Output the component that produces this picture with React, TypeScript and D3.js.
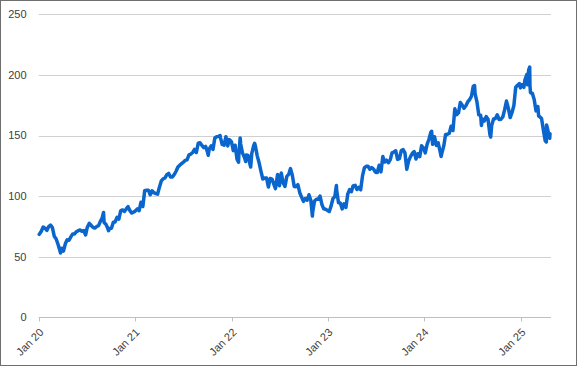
import React from "react";
import * as d3 from "d3";

const yTicks: number[] = [0, 50, 100, 150, 200, 250];
const xTickDates: string[] = ["2020-01-01", "2021-01-01", "2022-01-01", "2023-01-01", "2024-01-01", "2025-01-01"];
const xTickLabels: string[] = ["Jan 20", "Jan 21", "Jan 22", "Jan 23", "Jan 24", "Jan 25"];

const prices2020: [string, number][] = [
  ["2020-01-02", 68.4], ["2020-01-10", 71.0], ["2020-01-17", 74.5], ["2020-01-24", 73.5], ["2020-01-31", 71.7],
  ["2020-02-07", 74.9], ["2020-02-14", 76.1], ["2020-02-21", 74.0], ["2020-02-28", 66.9], ["2020-03-06", 64.8],
  ["2020-03-13", 60.5], ["2020-03-20", 55.4], ["2020-03-23", 53.1], ["2020-03-27", 57.0], ["2020-04-03", 54.6],
  ["2020-04-10", 60.6], ["2020-04-17", 63.9], ["2020-04-24", 63.6], ["2020-05-01", 66.4], ["2020-05-08", 68.8],
  ["2020-05-15", 68.8], ["2020-05-22", 70.6], ["2020-05-29", 71.5], ["2020-06-05", 72.0], ["2020-06-12", 71.0],
  ["2020-06-19", 71.6], ["2020-06-26", 67.9], ["2020-07-02", 74.0], ["2020-07-10", 77.5], ["2020-07-17", 75.9],
  ["2020-07-24", 74.2], ["2020-07-31", 73.6], ["2020-08-07", 74.9], ["2020-08-14", 75.6], ["2020-08-21", 79.2],
  ["2020-08-28", 82.0], ["2020-09-02", 86.5], ["2020-09-04", 78.2], ["2020-09-11", 76.7], ["2020-09-18", 73.4],
  ["2020-09-21", 71.5], ["2020-09-25", 73.3], ["2020-10-02", 73.5], ["2020-10-09", 78.4], ["2020-10-16", 78.7],
  ["2020-10-23", 82.4], ["2020-10-30", 81.0], ["2020-11-06", 87.8], ["2020-11-13", 88.6], ["2020-11-20", 87.3],
  ["2020-11-27", 89.4], ["2020-12-04", 91.3], ["2020-12-11", 88.0], ["2020-12-18", 86.0], ["2020-12-24", 86.7],
  ["2020-12-31", 87.6],
];

const prices2021: [string, number][] = [
  ["2021-01-08", 89.4], ["2021-01-15", 88.0], ["2021-01-22", 95.0], ["2021-01-29", 91.4], ["2021-02-05", 104.4],
  ["2021-02-12", 104.8], ["2021-02-19", 104.9], ["2021-02-26", 101.1], ["2021-03-05", 104.4], ["2021-03-12", 102.8],
  ["2021-03-19", 102.1], ["2021-03-26", 101.6], ["2021-04-01", 106.7], ["2021-04-09", 112.5], ["2021-04-16", 114.3],
  ["2021-04-23", 115.0], ["2021-04-30", 117.7], ["2021-05-07", 118.7], ["2021-05-14", 115.7], ["2021-05-21", 115.7],
  ["2021-05-28", 117.8], ["2021-06-04", 120.5], ["2021-06-11", 124.0], ["2021-06-18", 125.5], ["2021-06-25", 126.8],
  ["2021-07-02", 128.0], ["2021-07-09", 129.5], ["2021-07-16", 130.0], ["2021-07-23", 134.0], ["2021-07-30", 134.7],
  ["2021-08-06", 136.0], ["2021-08-13", 138.5], ["2021-08-20", 136.0], ["2021-08-27", 143.6], ["2021-09-03", 144.0],
  ["2021-09-10", 141.8], ["2021-09-17", 140.0], ["2021-09-24", 141.0], ["2021-10-01", 136.5], ["2021-10-04", 133.7],
  ["2021-10-08", 139.0], ["2021-10-15", 141.5], ["2021-10-22", 138.5], ["2021-10-29", 148.0], ["2021-11-05", 149.0],
  ["2021-11-12", 149.3], ["2021-11-18", 150.0], ["2021-11-19", 148.5], ["2021-11-26", 142.6], ["2021-12-03", 142.0],
  ["2021-12-10", 149.0], ["2021-12-17", 141.4], ["2021-12-23", 146.6], ["2021-12-31", 144.9],
];

const prices2022: [string, number][] = [
  ["2022-01-07", 137.5], ["2022-01-14", 142.0], ["2022-01-21", 130.5], ["2022-01-27", 128.0], ["2022-01-28", 133.5],
  ["2022-02-02", 148.0], ["2022-02-04", 143.0], ["2022-02-11", 135.5], ["2022-02-18", 132.0], ["2022-02-23", 128.5],
  ["2022-02-25", 134.0], ["2022-03-04", 133.5], ["2022-03-11", 126.5], ["2022-03-14", 124.0], ["2022-03-18", 135.0],
  ["2022-03-25", 141.5], ["2022-03-29", 143.6], ["2022-04-01", 141.0], ["2022-04-08", 133.0], ["2022-04-15", 127.5],
  ["2022-04-22", 120.5], ["2022-04-29", 114.1], ["2022-05-06", 115.0], ["2022-05-13", 115.0], ["2022-05-20", 107.5],
  ["2022-05-27", 114.5], ["2022-06-03", 114.0], ["2022-06-10", 109.7], ["2022-06-16", 106.2], ["2022-06-24", 117.8],
  ["2022-07-01", 108.6], ["2022-07-08", 119.0], ["2022-07-15", 111.0], ["2022-07-22", 107.9], ["2022-07-29", 116.3],
  ["2022-08-05", 117.9], ["2022-08-12", 122.7], ["2022-08-19", 117.0], ["2022-08-26", 108.0], ["2022-09-02", 107.8],
  ["2022-09-09", 109.4], ["2022-09-16", 102.8], ["2022-09-23", 99.2], ["2022-09-30", 95.6], ["2022-10-07", 98.0],
  ["2022-10-14", 96.6], ["2022-10-21", 101.1], ["2022-10-28", 96.6], ["2022-11-03", 83.5], ["2022-11-04", 86.7],
  ["2022-11-11", 96.0], ["2022-11-18", 97.4], ["2022-11-25", 97.3], ["2022-12-02", 100.0], ["2022-12-09", 93.1],
  ["2022-12-16", 89.5], ["2022-12-23", 89.2], ["2022-12-30", 88.2],
];

const prices2023: [string, number][] = [
  ["2023-01-06", 87.3], ["2023-01-13", 91.9], ["2023-01-20", 98.0], ["2023-01-27", 99.4], ["2023-02-02", 108.8],
  ["2023-02-03", 104.8], ["2023-02-10", 94.6], ["2023-02-17", 94.4], ["2023-02-24", 89.4], ["2023-03-03", 93.6],
  ["2023-03-10", 90.6], ["2023-03-17", 101.6], ["2023-03-24", 105.4], ["2023-03-31", 103.7], ["2023-04-06", 108.4],
  ["2023-04-14", 108.9], ["2023-04-21", 105.4], ["2023-04-28", 107.3], ["2023-05-05", 105.2], ["2023-05-12", 116.6],
  ["2023-05-19", 123.3], ["2023-05-26", 124.6], ["2023-06-02", 124.6], ["2023-06-09", 122.2], ["2023-06-16", 123.5],
  ["2023-06-23", 122.3], ["2023-06-30", 119.7], ["2023-07-07", 119.5], ["2023-07-14", 125.4], ["2023-07-21", 120.0],
  ["2023-07-28", 132.6], ["2023-08-04", 128.1], ["2023-08-11", 129.6], ["2023-08-18", 127.5], ["2023-08-25", 129.9],
  ["2023-09-01", 135.7], ["2023-09-08", 136.4], ["2023-09-15", 137.4], ["2023-09-22", 130.3], ["2023-09-29", 130.9],
  ["2023-10-06", 137.6], ["2023-10-13", 138.3], ["2023-10-20", 135.6], ["2023-10-27", 122.2], ["2023-11-03", 129.1],
  ["2023-11-10", 132.6], ["2023-11-17", 135.3], ["2023-11-24", 136.7], ["2023-12-01", 130.6], ["2023-12-08", 135.0],
  ["2023-12-15", 132.6], ["2023-12-22", 141.5], ["2023-12-29", 139.7],
];

const prices2024: [string, number][] = [
  ["2024-01-05", 135.7], ["2024-01-12", 142.7], ["2024-01-19", 146.9], ["2024-01-26", 152.6], ["2024-01-29", 153.5],
  ["2024-02-02", 142.7], ["2024-02-09", 149.0], ["2024-02-16", 141.8], ["2024-02-23", 144.0], ["2024-03-01", 137.1],
  ["2024-03-05", 132.7], ["2024-03-08", 135.4], ["2024-03-15", 141.2], ["2024-03-22", 150.8], ["2024-03-28", 150.9],
  ["2024-04-05", 151.8], ["2024-04-12", 157.7], ["2024-04-19", 154.1], ["2024-04-26", 172.0], ["2024-05-03", 167.2],
  ["2024-05-10", 168.7], ["2024-05-17", 177.3], ["2024-05-24", 175.0], ["2024-05-31", 172.5], ["2024-06-07", 174.5],
  ["2024-06-14", 177.7], ["2024-06-21", 179.6], ["2024-06-28", 182.2], ["2024-07-05", 190.6], ["2024-07-10", 191.2],
  ["2024-07-12", 184.4], ["2024-07-19", 177.7], ["2024-07-26", 167.0], ["2024-08-02", 166.7], ["2024-08-05", 158.3],
  ["2024-08-09", 163.7], ["2024-08-16", 162.0], ["2024-08-23", 165.6], ["2024-08-30", 163.4], ["2024-09-06", 150.9],
  ["2024-09-09", 148.7], ["2024-09-13", 158.4], ["2024-09-20", 163.6], ["2024-09-27", 164.0], ["2024-10-04", 167.1],
  ["2024-10-11", 163.2], ["2024-10-18", 163.4], ["2024-10-25", 165.3], ["2024-11-01", 171.3], ["2024-11-08", 178.4],
  ["2024-11-15", 172.5], ["2024-11-22", 164.8], ["2024-11-29", 169.0], ["2024-12-06", 174.7], ["2024-12-13", 189.8],
  ["2024-12-20", 191.4], ["2024-12-27", 192.8], ["2024-12-31", 189.3],
];

const prices2025: [string, number][] = [
  ["2025-01-03", 191.8], ["2025-01-10", 192.0], ["2025-01-13", 189.7], ["2025-01-17", 196.0], ["2025-01-24", 200.2],
  ["2025-01-27", 191.8], ["2025-01-31", 204.0], ["2025-02-04", 206.4], ["2025-02-05", 191.3], ["2025-02-07", 185.3],
  ["2025-02-14", 184.9], ["2025-02-21", 179.7], ["2025-02-28", 170.3], ["2025-03-07", 173.9], ["2025-03-10", 165.9],
  ["2025-03-14", 165.5], ["2025-03-21", 164.0], ["2025-03-28", 154.3], ["2025-04-04", 145.6], ["2025-04-08", 144.7],
  ["2025-04-09", 158.7], ["2025-04-11", 157.1], ["2025-04-17", 151.2], ["2025-04-21", 147.7], ["2025-04-22", 151.5],
];

const W = 577;
const H = 366;
const plotLeft = 38.7;
const plotRight = 551;
const yZero = 317.3;
const yTop = 14.3;

const parse = d3.timeParse("%Y-%m-%d");

export default function App() {
  const series = [...prices2020, ...prices2021, ...prices2022, ...prices2023, ...prices2024, ...prices2025].map(
    ([d, v]) => ({ date: parse(d) as Date, value: v })
  );
  const x = d3
    .scaleTime()
    .domain([series[0].date, series[series.length - 1].date])
    .range([plotLeft + 0.5, plotRight - 1]);
  const y = d3.scaleLinear().domain([0, 250]).range([yZero, yTop]);
  const line = d3
    .line<{ date: Date; value: number }>()
    .x((d) => x(d.date))
    .y((d) => y(d.value));
  const font = "'Liberation Sans', Arial, sans-serif";

  return (
    <div style={{ position: "fixed", left: 0, top: 0 }}>
      <svg width={W} height={H} style={{ display: "block" }}>
        <rect x={0} y={0} width={W} height={H} fill="#ffffff" />
        {yTicks.map((t) => (
          <g key={t}>
            <line
              x1={plotLeft}
              x2={plotRight}
              y1={Math.round(y(t)) + 0.5}
              y2={Math.round(y(t)) + 0.5}
              stroke={t === 0 ? "#bfbfbf" : "#d0d0d0"}
              strokeWidth={1}
            />
            <text
              x={26.5}
              y={y(t)}
              dy="0.35em"
              textAnchor="end"
              fontFamily={font}
              fontSize={11}
              fill="#404040"
            >
              {t}
            </text>
          </g>
        ))}
        {xTickDates.map((d, i) => {
          const tx = Math.round(x(parse(d) as Date)) + 0.5;
          return (
            <g key={d}>
              <line x1={tx} x2={tx} y1={Math.round(yZero) + 0.5} y2={Math.round(yZero) + 4.5} stroke="#bfbfbf" />
              <text
                transform={`translate(${tx + 2},${yZero + 13}) rotate(-45)`}
                textAnchor="end"
                dy="0.35em"
                fontFamily={font}
                fontSize={11}
                fill="#404040"
              >
                {xTickLabels[i]}
              </text>
            </g>
          );
        })}
        <path
          d={line(series) || ""}
          fill="none"
          stroke="#0a66cc"
          strokeWidth={3.5}
          strokeLinejoin="round"
          strokeLinecap="round"
        />
        <rect x={0.5} y={0.5} width={W - 1} height={H - 1} fill="none" stroke="#6f6f6f" strokeWidth={1} />
      </svg>
    </div>
  );
}
